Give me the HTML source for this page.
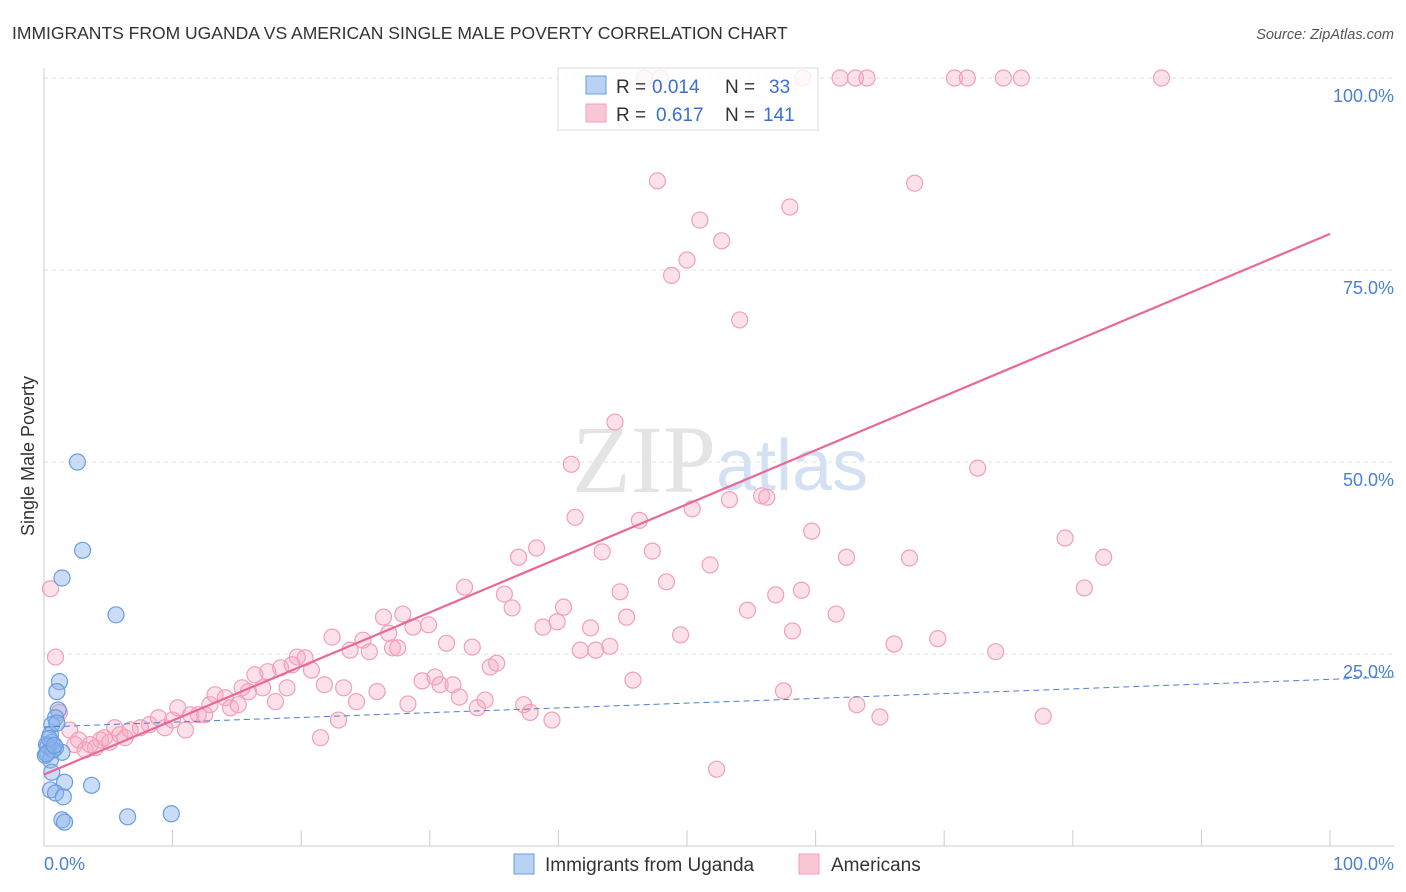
<!DOCTYPE html>
<html><head><meta charset="utf-8"><style>
body{margin:0;background:#fff;font-family:"Liberation Sans",sans-serif;}
svg{display:block}
</style></head><body>
<svg width="1406" height="892">
<text x="12" y="39" font-size="17.5" fill="#333">IMMIGRANTS FROM UGANDA VS AMERICAN SINGLE MALE POVERTY CORRELATION CHART</text>
<text x="1394" y="39" font-size="14.5" fill="#555" font-style="italic" text-anchor="end">Source: ZipAtlas.com</text>
<text x="716" y="492" font-size="96" fill="#e4e4e4" font-family="Liberation Serif" text-anchor="end">ZIP</text>
<text x="716" y="490" font-size="72" fill="#d3e1f3">atlas</text>
<g id="grid"></g>
<g id="marks"></g>
<text transform="translate(34,456) rotate(-90)" font-size="18" fill="#333" text-anchor="middle">Single Male Poverty</text>
<text x="44" y="870" font-size="18" fill="#4a7fd4">0.0%</text>
<text x="1394" y="870" font-size="18" fill="#4a7fd4" text-anchor="end">100.0%</text>
<g>
<rect x="558" y="68" width="260" height="62" fill="#fff" fill-opacity="0.8" stroke="#ddd"/>
<rect x="586" y="76" width="20" height="18" fill="#b8d3f3" stroke="#6a9de0"/>
<rect x="586" y="104" width="20" height="18" fill="#f9c6d5" stroke="#f0a0b8"/>
<text x="616" y="93" font-size="19" fill="#333">R =</text>
<text x="652" y="93" font-size="19" fill="#3a6fd0">0.014</text>
<text x="725" y="93" font-size="19" fill="#333">N =</text>
<text x="769" y="93" font-size="19" fill="#3a6fd0">33</text>
<text x="616" y="121" font-size="19" fill="#333">R =</text>
<text x="656" y="121" font-size="19" fill="#3a6fd0">0.617</text>
<text x="725" y="121" font-size="19" fill="#333">N =</text>
<text x="763" y="121" font-size="19" fill="#3a6fd0">141</text>
</g>
<g>
<rect x="514" y="854" width="20" height="20" fill="#b8d3f3" stroke="#6a9de0"/>
<text x="545" y="871" font-size="19" fill="#333">Immigrants from Uganda</text>
<rect x="799" y="854" width="20" height="20" fill="#f9c6d5" stroke="#f0a0b8"/>
<text x="831" y="871" font-size="19" fill="#333">Americans</text>
</g>
</svg>
<script>
const yTicks=[25,50,75,100];
const yTickLabels=["25.0%","50.0%","75.0%","100.0%"];
const xTicks=[0,10,20,30,40,50,60,70,80,90,100];
const blueX=[2.6,3.0,1.4,5.6,1.2,1.0,1.1,0.9,0.6,0.5,0.2,0.6,0.9,0.3,0.1,1.4,0.5,0.6,1.6,3.7,0.5,0.9,1.5,1.4,1.6,6.5,9.9,0.3,0.7,0.2,1.0,0.4,0.8];
const blueY=[50.0,38.5,34.9,30.1,21.4,20.1,17.7,16.7,15.8,14.5,13.2,13.5,12.8,12.2,11.8,12.2,11.2,9.6,8.3,7.9,7.3,6.9,6.4,3.4,3.1,3.8,4.2,13.0,12.5,12.0,16.0,14.0,13.1];
const pinkX=[0.5,0.9,1.2,2.0,2.4,2.7,3.2,3.6,4.0,4.4,4.7,5.1,5.5,5.9,6.3,6.7,7.5,8.2,8.9,9.4,10.0,10.4,11.0,11.4,12.0,12.5,12.9,13.3,14.1,14.5,15.1,15.4,15.9,16.4,17.0,17.4,18.0,18.4,18.9,19.3,19.7,20.3,20.8,21.5,21.8,22.4,22.9,23.3,23.8,24.3,24.8,25.3,25.9,26.4,26.8,27.1,27.5,27.9,28.3,28.7,29.4,29.9,30.4,30.8,31.3,31.8,32.3,32.7,33.3,33.7,34.3,34.7,35.2,35.8,36.4,36.9,37.3,37.8,38.3,38.8,39.5,39.9,40.4,41.0,41.3,41.7,42.5,42.9,43.4,44.0,44.4,44.8,45.3,45.8,46.3,47.3,47.7,48.4,48.8,49.5,50.0,50.4,51.0,51.8,52.3,52.7,53.3,54.1,54.7,55.8,56.2,56.9,57.5,58.0,58.2,58.9,59.7,61.6,62.4,63.2,65.0,66.1,67.3,67.7,69.5,72.6,74.0,77.7,79.4,80.9,82.4,46.7,47.9,59.0,61.9,63.1,64.0,70.8,71.8,74.6,76.0,86.9];
const pinkY=[33.5,24.6,17.4,15.1,13.2,13.8,12.5,13.2,12.8,13.8,14.1,13.5,15.4,14.5,14.1,15.1,15.4,15.8,16.7,15.4,16.4,18.0,15.1,17.1,17.1,17.1,18.4,19.7,19.3,18.0,18.4,20.6,20.1,22.3,20.6,22.7,18.8,23.2,20.6,23.6,24.6,24.5,22.9,14.1,21.0,27.2,16.4,20.6,25.5,18.8,26.8,25.3,20.1,29.8,27.7,25.8,25.8,30.2,18.5,28.5,21.5,28.8,22.0,21.0,26.4,21.0,19.4,33.7,25.9,18.0,19.0,23.3,23.8,32.8,31.0,37.6,18.4,17.4,38.8,28.5,16.4,29.2,31.1,49.7,42.8,25.5,28.4,25.5,38.3,26.0,55.2,33.1,29.8,21.6,42.4,38.4,86.6,34.4,74.3,27.5,76.3,43.9,81.5,36.6,10.0,78.8,45.1,68.5,30.7,45.6,45.4,32.7,20.2,83.2,28.0,33.3,41.0,30.2,37.6,18.4,16.8,26.3,37.5,86.3,27.0,49.2,25.3,16.9,40.1,33.6,37.6,100,100,100,100,100,100,100,100,100,100,100];
const pinkTrend=[9.3,79.7];
const blueTrend=[15.5,21.7];
const X=v=>44+v*12.86, Y=v=>846-v*7.68;
const NS="http://www.w3.org/2000/svg";
const grid=document.getElementById('grid'), marks=document.getElementById('marks');
function mk(tag,attrs,parent){const e=document.createElementNS(NS,tag);for(const k in attrs)e.setAttribute(k,attrs[k]);parent.appendChild(e);return e;}
yTicks.forEach((t,i)=>{
 const l=mk('line',{x1:44,x2:1394,y1:Y(t),y2:Y(t),stroke:'#e2e2e2','stroke-dasharray':'4,4'},grid);
 
 
 const tx=mk('text',{x:1394,y:Y(t)+24,'font-size':18,fill:'#4a7fd4','text-anchor':'end'},grid);
 tx.textContent=yTickLabels[i];
 
 
});
const ax=mk('line',{x1:44,x2:1394,y1:846,y2:846,stroke:'#ccc'},grid);


const ay=mk('line',{x1:44,x2:44,y1:68,y2:846,stroke:'#ccc'},grid);


xTicks.forEach(t=>{
 const l=mk('line',{x1:X(t),x2:X(t),y1:830,y2:846,stroke:'#ccc'},grid);
 
 
});
pinkX.forEach((x,i)=>{
 const c=mk('circle',{cx:X(x),cy:Y(pinkY[i]),r:8,fill:'rgba(246,170,195,0.35)',stroke:'#f0a0b8','stroke-width':1.2},marks);
 
 
});
blueX.forEach((x,i)=>{
 const c=mk('circle',{cx:X(x),cy:Y(blueY[i]),r:8,fill:'rgba(140,180,235,0.45)',stroke:'#6a9de0','stroke-width':1.2},marks);
 
 
});
const bt=mk('line',{x1:X(0),x2:X(105),y1:Y(blueTrend[0]),y2:Y(blueTrend[0]+(blueTrend[1]-blueTrend[0])*1.05),stroke:'#4a7fd4','stroke-width':1,'stroke-dasharray':'6,4'},marks);


const pt=mk('line',{x1:X(0),x2:X(100),y1:Y(pinkTrend[0]),y2:Y(pinkTrend[1]),stroke:'#e8689a','stroke-width':2.2},marks);


</script>
</body></html>
